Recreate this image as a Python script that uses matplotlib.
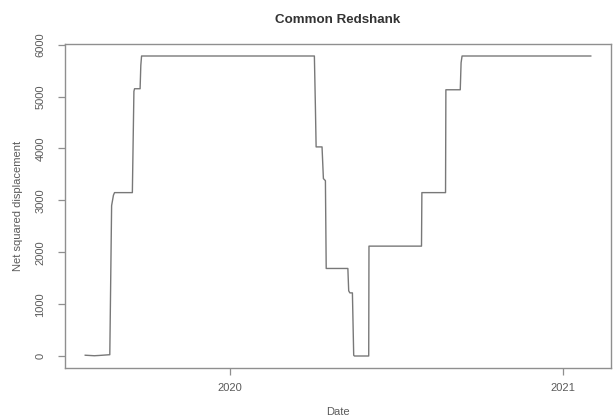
import matplotlib
matplotlib.use("Agg")
import matplotlib.pyplot as plt
import matplotlib.dates as mdates
import pandas as pd

title = "Common Redshank"
x_label = "Date"
y_label = "Net squared displacement"

dates = [
    "2019-07-26 00:00", "2019-08-05 00:00", "2019-08-10 00:00", "2019-08-22 00:00",
    "2019-08-24 00:00", "2019-08-26 00:00", "2019-08-27 05:00", "2019-09-15 19:00",
    "2019-09-17 12:00", "2019-09-18 05:00", "2019-09-24 07:00", "2019-09-25 02:00",
    "2019-09-25 22:00", "2020-04-02 19:00", "2020-04-03 22:00", "2020-04-04 17:00",
    "2020-04-11 05:00", "2020-04-12 17:00", "2020-04-14 22:00", "2020-04-15 19:00",
    "2020-05-09 14:00", "2020-05-10 12:00", "2020-05-11 19:00", "2020-05-14 14:00",
    "2020-05-16 00:00", "2020-05-16 19:00", "2020-06-01 12:00", "2020-06-01 19:00",
    "2020-07-29 12:00", "2020-07-29 22:00", "2020-08-24 22:00", "2020-08-25 07:00",
    "2020-09-10 02:00", "2020-09-11 00:00", "2020-09-12 02:00", "2021-01-31 12:00",
]
nsd = [
    20, 10, 15, 30,
    2900, 3100, 3150, 3150,
    5100, 5150, 5150, 5600,
    5780, 5780, 4800, 4030,
    4030, 3420, 3380, 1690,
    1690, 1260, 1220, 1220,
    20, 5, 5, 2120,
    2120, 3150, 3150, 5130,
    5130, 5650, 5780, 5780,
]
x_ticks = ["2020-01-01", "2021-01-01"]
x_tick_labels = ["2020", "2021"]
y_ticks = [0, 1000, 2000, 3000, 4000, 5000, 6000]

plt.rcParams["font.family"] = ["Liberation Sans", "DejaVu Sans"]

t = pd.to_datetime(dates)
fig = plt.figure(figsize=(6.13, 4.18), dpi=100)
ax = fig.add_axes([65 / 613, 1 - 368 / 418, (611 - 65) / 613, (368 - 44) / 418])

ax.plot(t, nsd, color="#787878", linewidth=1.0)

# R-style 4% padding
tn = mdates.date2num(t)
xr = tn.max() - tn.min()
ax.set_xlim(tn.min() - 0.04 * xr, tn.max() + 0.04 * xr)
yr = max(nsd) - min(nsd)
ax.set_ylim(min(nsd) - 0.04 * yr, max(nsd) + 0.04 * yr)

ax.set_xticks(mdates.date2num(pd.to_datetime(x_ticks)))
ax.set_xticklabels(x_tick_labels)
ax.set_yticks(y_ticks)
ax.set_yticklabels([str(v) for v in y_ticks], rotation=90, va="center")

for s in ax.spines.values():
    s.set_color("#8f8f8f")
    s.set_linewidth(1.0)
ax.tick_params(axis="both", direction="out", length=5, width=0.9, color="#8f8f8f",
               labelsize=8, labelcolor="#5a5a5a")
ax.tick_params(axis="y", pad=9)
ax.tick_params(axis="x", pad=6)

ax.set_title(title, fontsize=9.6, fontweight="bold", color="#333333", pad=15)
ax.set_xlabel(x_label, fontsize=8, color="#5a5a5a", labelpad=10)
ax.set_ylabel(y_label, fontsize=8, color="#5a5a5a", labelpad=9)

fig.savefig("out.png", dpi=100, facecolor="white")
